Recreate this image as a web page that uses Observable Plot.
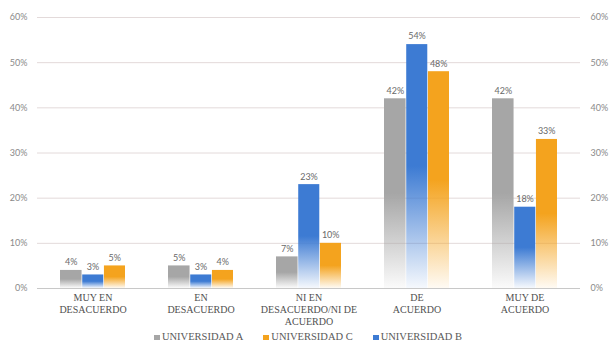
<!DOCTYPE html>
<html>
<head>
<meta charset="utf-8">
<script src="https://cdn.jsdelivr.net/npm/d3@7"></script>
<script src="https://cdn.jsdelivr.net/npm/@observablehq/plot@0.6"></script>
<style>
  html, body { margin: 0; padding: 0; background: #fff; }
  #chart { width: 612px; height: 344px; position: relative; }
  #legend { display: flex; justify-content: center; align-items: center; gap: 20px;
    font-family: "Liberation Serif"; font-size: 10.5px; color: #595959;
    height: 14px; line-height: 14px; margin-left: 4px; }
  #legend .sw { display: inline-block; width: 6px; height: 5px; margin-right: 2px; vertical-align: middle; }
</style>
</head>
<body>
<div id="chart"></div>
<script>
const categories = ["MUY EN DESACUERDO", "EN DESACUERDO", "NI EN DESACUERDO/NI DE ACUERDO", "DE ACUERDO", "MUY DE ACUERDO"];
const categoryLabels = ["MUY EN\nDESACUERDO", "EN\nDESACUERDO", "NI EN\nDESACUERDO/NI DE\nACUERDO", "DE\nACUERDO", "MUY DE\nACUERDO"];
const seriesNames = ["UNIVERSIDAD A", "UNIVERSIDAD B", "UNIVERSIDAD C"];
const valuesA = [4, 5, 7, 42, 42];
const valuesB = [3, 3, 23, 54, 18];
const valuesC = [5, 4, 10, 48, 33];
const colors = ["#a6a6a6", "#3d7bd3", "#f4a31e"];
const legendOrder = [0, 2, 1];
const yTicks = [0, 10, 20, 30, 40, 50, 60];

const W = 612, H = 330, mL = 37, mR = 32, mT = 17, mB = 42;
const padInner = 0.4, padOuter = 0.2;
const step = (W - mL - mR) / (categories.length - padInner + 2 * padOuter);
const bw = step * (1 - padInner);
const third = bw / 3;

const allSeries = [valuesA, valuesB, valuesC];
const marks = [
  Plot.ruleY(yTicks.filter(d => d > 0), {stroke: "#e3dada", strokeWidth: 1})
];
allSeries.forEach((vals, s) => {
  const data = categories.map((c, i) => ({cat: c, v: vals[i]}));
  marks.push(Plot.barY(data, {
    x: "cat", y: "v", fill: `url(#grad${s})`,
    insetLeft: third * s + (s > 0 ? 0.5 : 0), insetRight: third * (2 - s)
  }));
  marks.push(Plot.text(data, {
    x: "cat", y: "v", text: d => d.v + "%", dx: third * (s - 1), dy: -8,
    fill: "#6a6a6a", fontSize: 9, fontFamily: "Lato, 'Open Sans', sans-serif"
  }));
});
marks.push(Plot.ruleY([0], {stroke: "#c8c8c8"}));
marks.push(Plot.text(categories, {
  x: d => d, text: d => categoryLabels[categories.indexOf(d)],
  frameAnchor: "bottom", lineAnchor: "top", dy: 4, lineHeight: 1.2,
  fontFamily: "Liberation Serif", fontSize: 10, fill: "#505050"
}));

const plot = Plot.plot({
  width: W, height: H,
  marginLeft: mL, marginRight: mR, marginTop: mT, marginBottom: mB,
  style: {fontFamily: "Lato, 'Open Sans', sans-serif", background: "#fff", color: "#8a8a8a", fontSize: "9px"},
  x: {domain: categories, paddingInner: padInner, paddingOuter: padOuter, axis: null},
  y: {domain: [0, 60], ticks: yTicks, tickFormat: d => d + "%", tickSize: 0,
      axis: "both", label: null, tickPadding: 10},
  marks
});

const svg = d3.select(plot);
const defs = svg.insert("defs", ":first-child");
colors.forEach((c, s) => {
  const g = defs.append("linearGradient").attr("id", `grad${s}`)
    .attr("x1", 0).attr("y1", 0).attr("x2", 0).attr("y2", 1);
  g.append("stop").attr("offset", "0%").attr("stop-color", c);
  g.append("stop").attr("offset", "50%").attr("stop-color", c);
  g.append("stop").attr("offset", "100%").attr("stop-color", c).attr("stop-opacity", 0.05);
});

document.getElementById("chart").appendChild(plot);

const legend = d3.select("#chart").append("div").attr("id", "legend");
legendOrder.forEach(s => {
  const item = legend.append("div");
  item.append("span").attr("class", "sw").style("background", colors[s]);
  item.append("span").text(seriesNames[s]);
});
</script>
</body>
</html>
